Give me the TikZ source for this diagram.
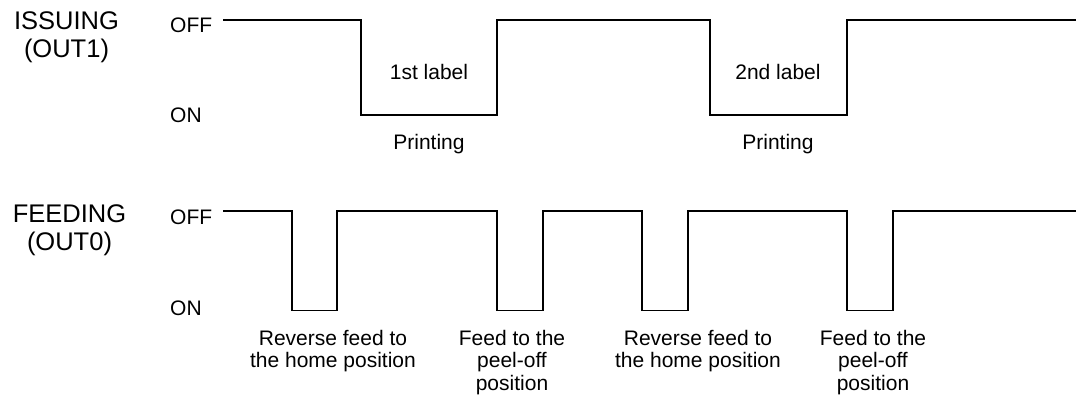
\documentclass[tikz,border=0pt]{standalone}
\usepackage{fontspec}
\setmainfont{Liberation Sans}
\begin{document}
\begin{tikzpicture}[x=1pt,y=-1pt,
  wave/.style={line width=1.8pt, line join=miter},
  title/.style={anchor=base, inner sep=0pt, font=\fontsize{25.5}{28}\selectfont},
  lvl/.style={anchor=base west, inner sep=0pt, font=\fontsize{21}{23}\selectfont},
  lbl/.style={anchor=base, inner sep=0pt, align=center, font=\fontsize{21}{22.7}\selectfont}]
\useasboundingbox (0,0) rectangle (1079,396);
% titles
\node[title] (iss) at (66.5,30) {ISSUING};
\node[title] (out1) at (66.5,58) {(OUT1)};
\node[title] (feed) at (69.5,222.7) {FEEDING};
\node[title] (out0) at (69.5,250.5) {(OUT0)};
% level labels
\node[lvl] (off1) at (170,33) {OFF};
\node[lvl] (on1) at (170,122) {ON};
\node[lvl] (off0) at (170,224) {OFF};
\node[lvl] (on0) at (170,315) {ON};
% waveforms
\draw[wave] (223,20) -- (361,20) -- (361,115) -- (497,115) -- (497,20) -- (710,20) -- (710,115) -- (847,115) -- (847,20) -- (1076,20);
\draw[wave] (223,211) -- (292,211) -- (292,310.5) -- (337,310.5) -- (337,211) -- (497,211) -- (497,310.5) -- (543,310.5) -- (543,211) -- (642,211) -- (642,310.5) -- (688,310.5) -- (688,211) -- (847,211) -- (847,310.5) -- (893,310.5) -- (893,211) -- (1076,211);
% top annotations
\node[lbl] (l1) at (429,80) {1st label};
\node[lbl] (p1) at (429,149) {Printing};
\node[lbl] (l2) at (778,80) {2nd label};
\node[lbl] (p2) at (778,149) {Printing};
% bottom annotations (base anchor = last line's baseline)
\node[lbl] (r1) at (333,367.7) {Reverse feed to\\the home position};
\node[lbl] (f1) at (512,390.4) {Feed to the\\peel-off\\position};
\node[lbl] (r2) at (698,367.7) {Reverse feed to\\the home position};
\node[lbl] (f2) at (873,390.4) {Feed to the\\peel-off\\position};
\end{tikzpicture}
\end{document}
